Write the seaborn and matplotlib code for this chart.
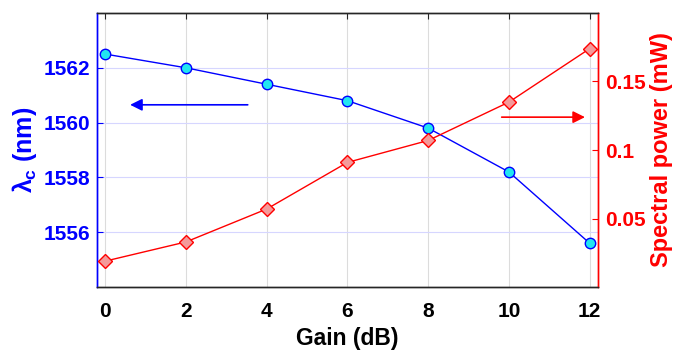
import numpy as np
import pandas as pd
import matplotlib
matplotlib.use('Agg')
import matplotlib.pyplot as plt
import seaborn as sns

# Data
gain_db = [0, 2, 4, 6, 8, 10, 12]
lambda_c = [1562.5, 1562.0, 1561.4, 1560.8, 1559.8, 1558.2, 1555.6]
spectral_power = [0.019, 0.033, 0.057, 0.091, 0.107, 0.135, 0.174]

df = pd.DataFrame({'gain': gain_db, 'lambda_c': lambda_c, 'power': spectral_power})

sns.set_style('white')
plt.rcParams['font.family'] = ['Liberation Sans', 'DejaVu Sans']
plt.rcParams['font.weight'] = 'bold'
plt.rcParams['mathtext.fontset'] = 'custom'
plt.rcParams['mathtext.rm'] = 'Liberation Sans:bold'
plt.rcParams['mathtext.it'] = 'Liberation Sans:bold'
plt.rcParams['mathtext.bf'] = 'Liberation Sans:bold'

fig, ax = plt.subplots(figsize=(6.74, 3.59), dpi=100)
fig.subplots_adjust(left=0.144, right=0.887, top=0.964, bottom=0.2)
ax2 = ax.twinx()

# grid: vertical grey, horizontal light blue
for x in [0, 2, 4, 6, 8, 10, 12]:
    ax.axvline(x, color='#dcdcdc', lw=0.8, zorder=0)
ax.yaxis.grid(True, color='#d6d6ff', lw=0.8)
ax.set_axisbelow(True)

sns.lineplot(data=df, x='gain', y='lambda_c', ax=ax, color='#0000ff', lw=1.0,
             marker='o', markersize=7.5, markerfacecolor='#22e6f0',
             markeredgecolor='#0000ff', markeredgewidth=1.0, zorder=3)
sns.lineplot(data=df, x='gain', y='power', ax=ax2, color='#ff0000', lw=1.0,
             marker='D', markersize=7.5, markerfacecolor='#f49a9a',
             markeredgecolor='#ff0000', markeredgewidth=1.0, zorder=3)

ax.set_xlim(-0.2, 12.2)
ax.set_ylim(1554, 1564)
ax2.set_ylim(0, 0.2)
ax.set_xticks([0, 2, 4, 6, 8, 10, 12])
ax.set_yticks([1556, 1558, 1560, 1562])
ax2.set_yticks([0.05, 0.1, 0.15])
ax2.set_yticklabels(['0.05', '0.1', '0.15'])

ax.set_xlabel('Gain (dB)', fontsize=16.5, fontweight='bold', color='black', labelpad=4)
ax.set_ylabel(r'$\lambda_c$ (nm)', fontsize=18, fontweight='bold', color='#0000ff', labelpad=3)
ax2.set_ylabel('Spectral power (mW)', fontsize=17, fontweight='bold', color='#ff0000', labelpad=3)

ax.tick_params(axis='x', direction='in', labelsize=15, pad=11, top=True, length=4,
               color='#262626', labelcolor='black')
ax.tick_params(axis='y', direction='in', labelsize=15, colors='#0000ff', length=4, pad=5)
ax2.tick_params(axis='y', direction='in', labelsize=15, colors='#ff0000', length=4, pad=5)
for t in ax.get_xticklabels() + ax.get_yticklabels() + ax2.get_yticklabels():
    t.set_fontweight('bold')

for a in (ax, ax2):
    for s in a.spines.values():
        s.set_linewidth(1.0)
        s.set_visible(True)
    a.spines['top'].set_color('#262626')
    a.spines['bottom'].set_color('#262626')
    a.spines['left'].set_color('#0000ff')
    a.spines['right'].set_color('#ff0000')

# direction arrows
ax.annotate('', xy=(0.55, 1560.65), xytext=(3.6, 1560.65),
            arrowprops=dict(arrowstyle='-|>', color='#0000ff', lw=1.2, mutation_scale=18))
ax2.annotate('', xy=(11.95, 0.124), xytext=(9.75, 0.124),
             arrowprops=dict(arrowstyle='-|>', color='#ff0000', lw=1.2, mutation_scale=18))

fig.savefig('out.png', dpi=100)
